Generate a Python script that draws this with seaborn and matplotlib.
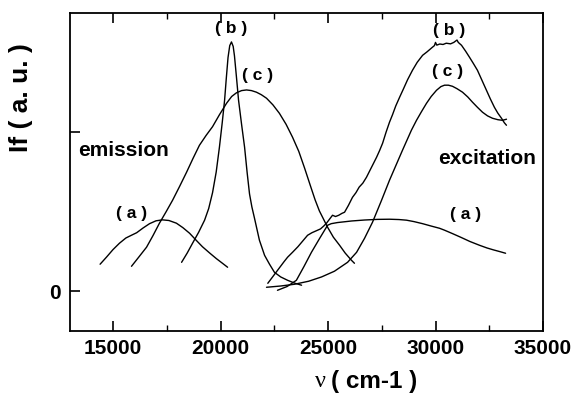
import matplotlib
matplotlib.use("Agg")
import matplotlib.pyplot as plt
import seaborn as sns

# ---------------- data ----------------
em_a_x = [14400, 14700, 15000, 15300, 15600, 15900, 16100, 16400, 16700, 17000, 17300, 17600,
          17950, 18250, 18560, 18860, 19160, 19500, 19810, 20100, 20330]
em_a_y = [0.170, 0.215, 0.262, 0.302, 0.335, 0.355, 0.368, 0.398, 0.425, 0.443, 0.449, 0.445,
          0.428, 0.400, 0.365, 0.322, 0.280, 0.240, 0.205, 0.175, 0.151]

em_b_x = [18190, 18450, 18700, 18980, 19260, 19450, 19630, 19800, 19950, 20080, 20190, 20270,
          20350, 20430, 20510, 20590, 20650, 20740, 20840, 20980, 21120, 21240, 21350, 21460,
          21580, 21810, 22050, 22280, 22510, 22800, 23120, 23450, 23770]
em_b_y = [0.182, 0.240, 0.302, 0.370, 0.447, 0.520, 0.620, 0.750, 0.906, 1.060, 1.201, 1.340,
          1.470, 1.545, 1.568, 1.540, 1.480, 1.350, 1.201, 1.050, 0.906, 0.745, 0.612, 0.530,
          0.460, 0.321, 0.226, 0.170, 0.119, 0.090, 0.069, 0.051, 0.038]

em_c_x = [15860, 16200, 16560, 16860, 17160, 17470, 17770, 18100, 18420, 18720, 19020, 19330,
          19630, 19950, 20280, 20520, 20740, 20980, 21210, 21440, 21670, 21900, 22140, 22440,
          22740, 23050, 23350, 23640, 23910, 24190, 24400, 24600, 24980, 25250, 25540, 25800,
          26090, 26230]
em_c_y = [0.157, 0.215, 0.277, 0.350, 0.428, 0.500, 0.572, 0.660, 0.748, 0.835, 0.918, 0.980,
          1.035, 1.110, 1.182, 1.225, 1.248, 1.262, 1.266, 1.262, 1.252, 1.236, 1.214, 1.172,
          1.119, 1.050, 0.969, 0.880, 0.775, 0.660, 0.575, 0.505, 0.403, 0.340, 0.289, 0.240,
          0.195, 0.176]

ex_a_x = [22650, 23100, 23530, 23880, 24230, 24600, 24980, 25150, 25440, 26100, 26700, 27300,
          27860, 28300, 28650, 29000, 29400, 29800, 30190, 30420, 30800, 31200, 31600, 32050,
          32400, 32700, 33000, 33260]
ex_a_y = [0.006, 0.030, 0.069, 0.155, 0.245, 0.330, 0.415, 0.425, 0.432, 0.442, 0.448, 0.452,
          0.453, 0.451, 0.447, 0.438, 0.425, 0.410, 0.396, 0.384, 0.362, 0.338, 0.313, 0.289,
          0.272, 0.260, 0.249, 0.239]

ex_b_x = [22200, 22450, 22700, 22950, 23120, 23350, 23600, 23800, 24050, 24250, 24450, 24650,
          24800, 24930, 25080, 25210, 25350, 25500, 25650, 25770, 25950, 26140, 26300, 26450,
          26620, 26790, 26950, 27100, 27260, 27400, 27540, 27700, 27860, 28000, 28150, 28330,
          28500, 28700, 28930, 29150, 29400, 29600, 29860, 29950, 30000, 30060, 30200, 30350,
          30500, 30700, 30850, 31000, 31060, 31210, 31400, 31580, 31750, 31950, 32150, 32370,
          32550, 32740, 32900, 33070, 33200, 33300]
ex_b_y = [0.050, 0.095, 0.140, 0.185, 0.214, 0.245, 0.280, 0.312, 0.352, 0.368, 0.380, 0.392,
          0.410, 0.428, 0.455, 0.478, 0.470, 0.478, 0.490, 0.497, 0.540, 0.591, 0.620, 0.655,
          0.680, 0.717, 0.760, 0.800, 0.843, 0.885, 0.931, 1.000, 1.063, 1.110, 1.165, 1.220,
          1.270, 1.330, 1.390, 1.440, 1.484, 1.505, 1.535, 1.545, 1.565, 1.548, 1.555, 1.552,
          1.560, 1.556, 1.565, 1.580, 1.565, 1.547, 1.510, 1.472, 1.435, 1.390, 1.330, 1.264,
          1.210, 1.157, 1.120, 1.088, 1.060, 1.044]

ex_c_x = [22140, 22800, 23440, 24100, 24700, 25300, 25910, 26330, 26700, 27070, 27490, 27860,
          28465, 28880, 29116, 29350, 29581, 29800, 30047, 30250, 30419, 30600, 30791, 31000,
          31256, 31500, 31721, 31950, 32186, 32420, 32651, 32900, 33116, 33302]
ex_c_y = [0.025, 0.033, 0.044, 0.063, 0.090, 0.126, 0.182, 0.245, 0.333, 0.434, 0.572, 0.698,
          0.887, 1.013, 1.075, 1.130, 1.182, 1.225, 1.264, 1.287, 1.296, 1.296, 1.289, 1.274,
          1.252, 1.222, 1.189, 1.157, 1.126, 1.103, 1.088, 1.079, 1.075, 1.082]

curves = [(em_a_x, em_a_y), (em_b_x, em_b_y), (em_c_x, em_c_y),
          (ex_a_x, ex_a_y), (ex_b_x, ex_b_y), (ex_c_x, ex_c_y)]

x_ticks = [15000, 20000, 25000, 30000, 35000]
x_tick_labels = ["15000", "20000", "25000", "30000", "35000"]
y_ticks = [0, 1]
y_tick_labels = ["0", ""]

curve_labels = [("( a )", 15860, 0.49), ("( b )", 20510, 1.655), ("( c )", 21720, 1.36),
                ("( b )", 30650, 1.64), ("( c )", 30560, 1.38), ("( a )", 31400, 0.48)]

# ---------------- plotting ----------------
sns.set_style("white")
plt.rcParams['font.family'] = ['Liberation Sans', 'DejaVu Sans']
plt.rcParams['text.color'] = 'black'
plt.rcParams['axes.labelcolor'] = 'black'
plt.rcParams['xtick.color'] = 'black'
plt.rcParams['ytick.color'] = 'black'

fig = plt.figure(figsize=(5.72, 3.95), dpi=100)
ax = fig.add_axes([70/572, 1-331/395, (543-70)/572, (331-13)/395])

for cx, cy in curves:
    sns.lineplot(x=cx, y=cy, ax=ax, color='black', linewidth=1.0, estimator=None, sort=True)

ax.set_xlim(13000, 35000)
ax.set_ylim(-0.25, 1.75)

ax.set_xticks(x_ticks)
ax.set_xticklabels(x_tick_labels, fontsize=15, fontweight='bold', color='black')
ax.set_xticks([17500, 22500, 27500, 32500], minor=True)
ax.set_yticks(y_ticks)
ax.set_yticklabels(y_tick_labels, fontsize=15, fontweight='bold', color='black')

ax.tick_params(axis='x', which='major', direction='in', length=7, width=1.2,
               top=True, bottom=True, pad=6, color='black')
ax.tick_params(axis='x', which='minor', direction='in', length=4, width=1.0,
               top=True, bottom=True, color='black')
ax.tick_params(axis='y', which='major', direction='in', length=7, width=1.2,
               left=True, right=False, pad=7, color='black')

for s in ax.spines.values():
    s.set_linewidth(1.3)
    s.set_color('black')

ax.set_ylabel("If ( a. u. )", fontsize=19, fontweight='bold', color='black')
ax.yaxis.set_label_coords(-0.078, 0.733)

ax.text(0.542, -0.16, "ν", transform=ax.transAxes, ha='right', va='center',
        fontsize=17.5, family='Liberation Serif', color='black')
ax.text(0.552, -0.16, "( cm-1 )", transform=ax.transAxes, ha='left', va='center',
        fontsize=17.5, fontweight='bold', color='black')

ax.text(0.017, 0.569, "emission", transform=ax.transAxes, ha='left', va='center',
        fontsize=15, fontweight='bold', color='black')
ax.text(0.778, 0.544, "excitation", transform=ax.transAxes, ha='left', va='center',
        fontsize=15, fontweight='bold', color='black')

for txt, lx, ly in curve_labels:
    ax.text(lx, ly, txt, ha='center', va='center', fontsize=12.5, fontweight='bold',
            color='black')

fig.savefig("out.png", dpi=100)
